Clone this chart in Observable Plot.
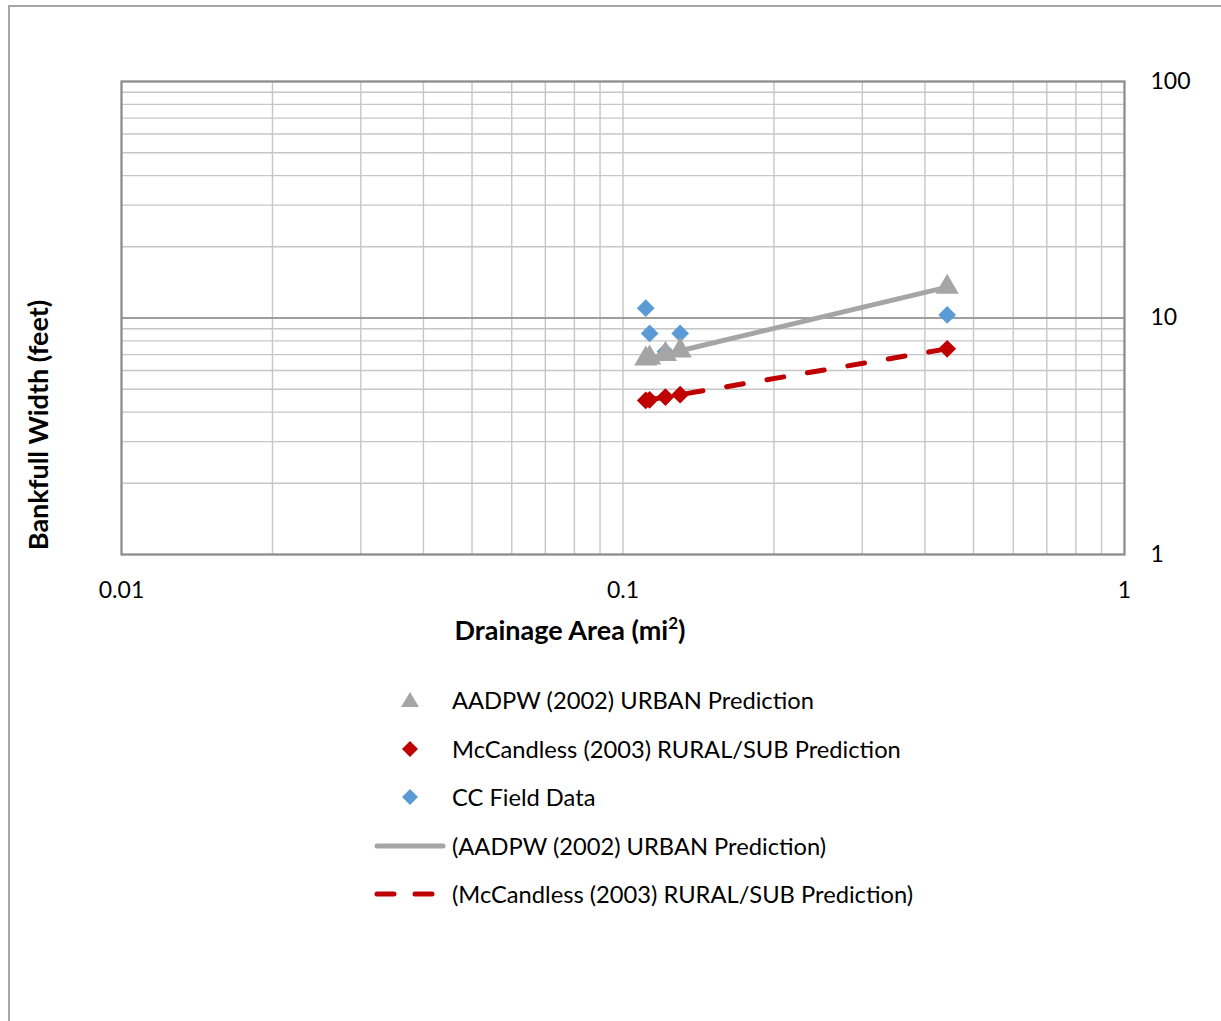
<!DOCTYPE html>
<html>
<head>
<meta charset="utf-8">
<script src="https://cdn.jsdelivr.net/npm/d3@7"></script>
<script src="https://cdn.jsdelivr.net/npm/@observablehq/plot@0.6"></script>
<style>
  html, body { margin: 0; padding: 0; background: #fff; }
  body { width: 1221px; height: 1021px; overflow: hidden; position: relative; font-family: Lato, "Open Sans", sans-serif; color: #000; }
  #border { position: absolute; left: 8px; top: 5px; width: 1300px; height: 1100px; border-top: 2px solid #a6a6a6; border-left: 2px solid #a6a6a6; box-sizing: border-box; }
  #chart { position: absolute; left: 0; top: 0; }
  .ytitle { position: absolute; left: 37px; top: 425px; transform: translate(-50%, -50%) rotate(-90deg); font-weight: bold; font-size: 27px; white-space: nowrap; }
  .xtitle { position: absolute; left: 570px; top: 629px; transform: translate(-50%, -50%); font-weight: bold; font-size: 27px; white-space: nowrap; }
  .xtitle sup { font-size: 17px; vertical-align: 11px; line-height: 0; }
  .leg { position: absolute; left: 370px; height: 30px; display: flex; align-items: center; font-size: 23.7px; white-space: nowrap; transform: translateY(-50%); }
  .leg svg { width: 80px; height: 30px; flex: none; }
  .leg span { margin-left: 2px; }
</style>
</head>
<body>
<div id="border"></div>
<div id="chart"></div>
<div class="ytitle">Bankfull Width (feet)</div>
<div class="xtitle">Drainage Area (mi<sup>2</sup>)</div>
<div id="legend"></div>
<script>
// ---- data ----
const drainageArea = [0.111, 0.113, 0.1215, 0.130, 0.443];          // mi^2
const urbanPrediction = [6.72, 6.78, 7.03, 7.27, 13.5];              // AADPW (2002) URBAN
const ruralPrediction = [4.48, 4.51, 4.63, 4.74, 7.41];              // McCandless (2003) RURAL/SUB
const fieldWidth = [11.0, 8.6, 7.2, 8.6, 10.3];                      // CC Field Data

const xTickLabels = [0.01, 0.1, 1];
const yTickLabels = [1, 10, 100];
const xGrid = [0.01, 0.02, 0.03, 0.04, 0.05, 0.06, 0.07, 0.08, 0.09,
               0.1, 0.2, 0.3, 0.4, 0.5, 0.6, 0.7, 0.8, 0.9, 1];
const yGrid = [1, 2, 3, 4, 5, 6, 7, 8, 9, 10, 20, 30, 40, 50, 60, 70, 80, 90, 100];
const yMajor = [10];

const seriesNames = [
  "AADPW (2002) URBAN Prediction",
  "McCandless (2003) RURAL/SUB Prediction",
  "CC Field Data",
  "(AADPW (2002) URBAN Prediction)",
  "(McCandless (2003) RURAL/SUB Prediction)"
];

const GRAY = "#a5a5a5", RED = "#c00000", BLUE = "#5b9bd5";

const urban = drainageArea.map((a, i) => ({a, w: urbanPrediction[i]}));
const rural = drainageArea.map((a, i) => ({a, w: ruralPrediction[i]}));
const field = drainageArea.map((a, i) => ({a, w: fieldWidth[i]}));

const chart = Plot.plot({
  width: 1221,
  height: 660,
  marginLeft: 121,
  marginRight: 97,
  marginTop: 81,
  marginBottom: 106,
  style: {fontFamily: "Lato, 'Open Sans', sans-serif", fontSize: "23px", color: "#000", background: "transparent"},
  x: {type: "log", domain: [0.01, 1], ticks: xTickLabels, tickFormat: d => String(d), tickSize: 0, tickPadding: 27, label: null},
  y: {type: "log", domain: [1, 100], ticks: yTickLabels, tickFormat: d => String(d), tickSize: 0, tickPadding: 26, axis: "right", label: null},
  marks: [
    Plot.ruleX(xGrid, {stroke: "#c6c6c6", strokeWidth: 1.4, strokeOpacity: 1}),
    Plot.ruleY(yGrid, {stroke: "#c6c6c6", strokeWidth: 1.4, strokeOpacity: 1}),
    Plot.ruleY(yMajor, {stroke: "#8c8c8c", strokeWidth: 1.6, strokeOpacity: 1}),
    Plot.frame({stroke: "#8c8c8c", strokeWidth: 2.2, strokeOpacity: 1}),
    Plot.dot(field, {x: "a", y: "w", symbol: "diamond2", r: 8, fill: BLUE, stroke: "none"}),
    Plot.line(urban, {x: "a", y: "w", stroke: GRAY, strokeWidth: 5}),
    Plot.dot(urban, {x: "a", y: "w", symbol: "triangle", r: 8.6, fill: GRAY, stroke: "none"}),
    Plot.line(rural, {x: "a", y: "w", stroke: RED, strokeWidth: 5, strokeDasharray: "17,24", strokeLinecap: "round"}),
    Plot.dot(rural, {x: "a", y: "w", symbol: "diamond2", r: 8, fill: RED, stroke: "none"})
  ]
});
document.getElementById("chart").appendChild(chart);

// ---- legend ----
const legendRowsY = [700, 749, 797, 846, 894];
const swatches = [
  `<polygon points="40,7 49,22 31,22" fill="${GRAY}"/>`,
  `<polygon points="40,7 48,15 40,23 32,15" fill="${RED}"/>`,
  `<polygon points="40,7 48,15 40,23 32,15" fill="${BLUE}"/>`,
  `<line x1="7" y1="15" x2="73" y2="15" stroke="${GRAY}" stroke-width="5" stroke-linecap="round"/>`,
  `<line x1="7" y1="15" x2="73" y2="15" stroke="${RED}" stroke-width="5" stroke-linecap="round" stroke-dasharray="17,21"/>`
];
const legend = document.getElementById("legend");
seriesNames.forEach((name, i) => {
  const row = document.createElement("div");
  row.className = "leg";
  row.style.top = legendRowsY[i] + "px";
  row.innerHTML = `<svg viewBox="0 0 80 30">${swatches[i]}</svg><span>${name}</span>`;
  legend.appendChild(row);
});
</script>
</body>
</html>
